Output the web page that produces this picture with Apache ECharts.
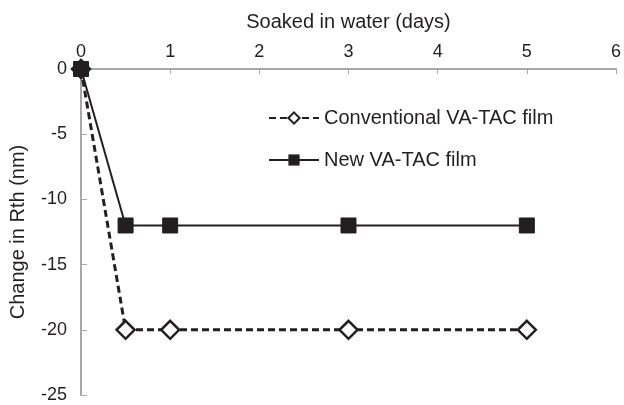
<!DOCTYPE html>
<html>
<head>
<meta charset="utf-8">
<script src="https://cdn.jsdelivr.net/npm/echarts@6/dist/echarts.min.js"></script>
<style>
  html, body { margin: 0; padding: 0; background: #fff; }
  #chart { width: 624px; height: 405px; }
</style>
</head>
<body>
<div id="chart"></div>
<script>
// soaking time (days)
var days = [0, 0.5, 1, 3, 5]
// change in Rth (nm)
var conventional = [0, -20, -20, -20, -20]
var newFilm = [0, -12, -12, -12, -12]
var seriesNames = ['Conventional VA-TAC film', 'New VA-TAC film']

function pairs(ys) {
    return days.map(function (d, i) { return [d, ys[i]] })
}

var axisGray = '#a8a8a8'
var textColor = '#231f20'

var chart = echarts.init(document.getElementById('chart'))
chart.setOption({
    animation: false,
    textStyle: { fontFamily: 'Liberation Sans, Arial, sans-serif' },
    grid: { left: 81, right: 7, top: 69, bottom: 10 },
    legend: {
        orient: 'vertical',
        left: 268,
        top: 107,
        padding: 0,
        itemGap: 20,
        itemWidth: 50,
        itemHeight: 14,
        textStyle: { color: textColor, fontSize: 20, lineHeight: 22 },
        data: seriesNames
    },
    xAxis: {
        type: 'value',
        position: 'top',
        min: 0,
        max: 6,
        interval: 1,
        name: 'Soaked in water (days)',
        nameLocation: 'middle',
        nameGap: 37,
        nameTextStyle: { color: textColor, fontSize: 20 },
        axisLine: { lineStyle: { color: axisGray, width: 2 } },
        axisTick: { inside: true, length: 5, lineStyle: { color: axisGray } },
        axisLabel: { color: textColor, fontSize: 18, margin: 8 },
        splitLine: { show: false }
    },
    yAxis: {
        type: 'value',
        min: -25,
        max: 0,
        interval: 5,
        name: 'Change in Rth (nm)',
        nameLocation: 'middle',
        nameGap: 53,
        nameTextStyle: { color: textColor, fontSize: 20 },
        axisLine: { show: true, onZero: false, lineStyle: { color: axisGray, width: 2 } },
        axisTick: { show: true, inside: true, length: 6, lineStyle: { color: axisGray } },
        axisLabel: { color: textColor, fontSize: 18, margin: 14 },
        splitLine: { show: false }
    },
    series: [
        {
            name: seriesNames[0],
            type: 'line',
            data: pairs(conventional),
            symbol: 'diamond',
            symbolSize: 18,
            lineStyle: { color: '#231f20', width: 3, type: [7, 4] },
            itemStyle: { color: '#fff', borderColor: '#231f20', borderWidth: 2.5 }
        },
        {
            name: seriesNames[1],
            type: 'line',
            data: pairs(newFilm),
            symbol: 'rect',
            symbolSize: 15,
            lineStyle: { color: '#231f20', width: 2 },
            itemStyle: { color: '#231f20', borderColor: '#231f20' }
        }
    ]
})
</script>
</body>
</html>
